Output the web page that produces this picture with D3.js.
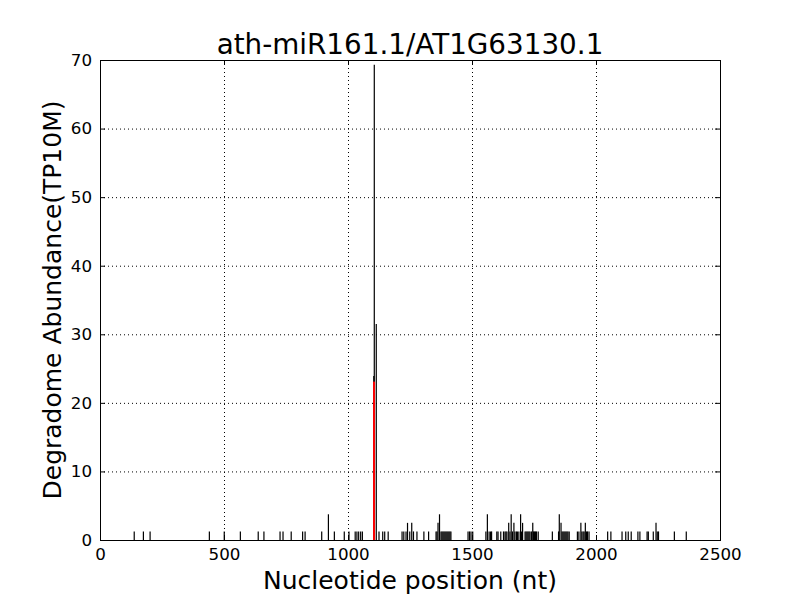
<!DOCTYPE html>
<html>
<head>
<meta charset="utf-8">
<script src="https://cdn.jsdelivr.net/npm/d3@7"></script>
<style>
  html, body { margin: 0; padding: 0; background: #ffffff; }
  svg { display: block; }
  text { font-family: "DejaVu Sans", sans-serif; fill: #000; }
</style>
</head>
<body>
<svg id="chart" width="800" height="600"></svg>
<script>
// ---- data ----
const titleText = "ath-miR161.1/AT1G63130.1";
const xLabelText = "Nucleotide position (nt)";
const yLabelText = "Degradome Abundance(TP10M)";
const xTicks = [0, 500, 1000, 1500, 2000, 2500];
const yTicks = [0, 10, 20, 30, 40, 50, 60, 70];

const positions = [
  138, 175, 202, 441, 501, 566, 638, 661, 726, 738, 771, 817, 827,
  894, 921, 945, 985, 1004, 1029, 1036, 1043, 1051, 1058,
  1104, 1106, 1114,
  1125, 1140, 1148, 1162,
  1218, 1225, 1234, 1240, 1249, 1257, 1264, 1278, 1306, 1325,
  1355, 1359, 1363, 1369, 1375, 1379, 1383, 1387, 1391, 1395, 1399, 1403, 1407, 1411, 1415,
  1484, 1490, 1496, 1503,
  1556, 1562, 1569, 1575, 1579,
  1600, 1605, 1616, 1627, 1633, 1637, 1641, 1648, 1653, 1658, 1663, 1669, 1673, 1679, 1683,
  1689, 1696, 1700, 1704, 1714, 1718, 1722, 1726, 1730, 1734, 1740, 1745, 1748, 1752, 1756, 1760, 1767,
  1824, 1849, 1852, 1859, 1863, 1867, 1871, 1875, 1879, 1883, 1887, 1892,
  1925, 1931, 1939, 1943, 1948, 1952, 1957, 1962, 1966, 1972,
  2047, 2060, 2105, 2120, 2130, 2142, 2169, 2177, 2206, 2211, 2231, 2242, 2247, 2252, 2316, 2364
];
const abundances = [
  1.25, 1.25, 1.25, 1.25, 1.25, 1.25, 1.25, 1.25, 1.25, 1.25, 1.25, 1.25, 1.25,
  1.25, 3.75, 1.25, 1.25, 1.25, 1.25, 1.25, 1.25, 1.25, 1.25,
  23.9, 69.3, 31.5,
  1.25, 1.25, 1.25, 1.25,
  1.25, 1.25, 1.25, 2.5, 1.25, 2.5, 1.25, 1.25, 1.25, 1.25,
  1.25, 1.25, 2.5, 3.75, 1.25, 1.25, 1.25, 1.25, 1.25, 1.25, 1.25, 1.25, 1.25, 1.25, 1.25,
  1.25, 1.25, 1.25, 1.25,
  1.25, 3.75, 1.25, 1.25, 1.25,
  1.25, 1.25, 1.25, 1.25, 1.25, 1.25, 1.25, 2.5, 1.25, 3.75, 1.25, 2.5, 1.25, 1.25, 1.25,
  1.25, 3.75, 1.25, 2.5, 1.25, 1.25, 1.25, 1.25, 1.25, 1.25, 1.25, 2.5, 1.25, 1.25, 1.25, 1.25, 1.25,
  1.25, 1.25, 3.75, 2.5, 1.25, 1.25, 1.25, 1.25, 1.25, 1.25, 1.25, 1.25,
  1.25, 1.25, 2.5, 1.25, 1.25, 1.25, 2.5, 1.25, 1.25, 1.25,
  1.25, 1.25, 1.25, 1.25, 1.25, 1.25, 1.25, 1.25, 1.25, 1.25, 1.25, 2.5, 1.25, 1.25, 1.25, 1.25
];
const cleavagePositions = [1105];
const cleavageAbundances = [23.1];

// ---- layout ----
const svg = d3.select("#chart");
const mLeft = 100, mRight = 720, mTop = 60, mBottom = 540;

const x = d3.scaleLinear().domain([0, 2500]).range([mLeft, mRight]);
const y = d3.scaleLinear().domain([0, 70]).range([mBottom, mTop]);

// grid
const grid = svg.append("g");
grid.selectAll("line.gx").data(xTicks).join("line")
  .attr("x1", d => x(d) + 0.5).attr("x2", d => x(d) + 0.5)
  .attr("y1", mTop).attr("y2", mBottom)
  .attr("stroke", "#000").attr("stroke-width", 1).attr("stroke-dasharray", "1,3");
grid.selectAll("line.gy").data(yTicks).join("line")
  .attr("y1", d => y(d) + 0.5).attr("y2", d => y(d) + 0.5)
  .attr("x1", mLeft).attr("x2", mRight)
  .attr("stroke", "#000").attr("stroke-width", 1).attr("stroke-dasharray", "1,3");

// bars (vlines)
const bars = positions.map((p, i) => ({ p, v: abundances[i] }));
svg.append("g").selectAll("line").data(bars).join("line")
  .attr("x1", d => x(d.p)).attr("x2", d => x(d.p))
  .attr("y1", y(0)).attr("y2", d => y(d.v))
  .attr("stroke", "#000").attr("stroke-width", 1.2);

const cleav = cleavagePositions.map((p, i) => ({ p, v: cleavageAbundances[i] }));
svg.append("g").selectAll("line").data(cleav).join("line")
  .attr("x1", d => x(d.p)).attr("x2", d => x(d.p))
  .attr("y1", y(0)).attr("y2", d => y(d.v))
  .attr("stroke", "#ff0000").attr("stroke-width", 2);

// frame
svg.append("rect").attr("x", mLeft + 0.5).attr("y", mTop + 0.5)
  .attr("width", mRight - mLeft).attr("height", mBottom - mTop)
  .attr("fill", "none").attr("stroke", "#000").attr("stroke-width", 1);

// axes with inward ticks on all sides
const tickLen = 5;
const xAxisB = d3.axisBottom(x).tickValues(xTicks).tickSizeInner(-tickLen).tickSizeOuter(0).tickPadding(tickLen + 3).tickFormat(d3.format("d"));
const xAxisT = d3.axisTop(x).tickValues(xTicks).tickSizeInner(-tickLen).tickSizeOuter(0).tickFormat("");
const yAxisL = d3.axisLeft(y).tickValues(yTicks).tickSizeInner(-tickLen).tickSizeOuter(0).tickPadding(tickLen + 3).tickFormat(d3.format("d"));
const yAxisR = d3.axisRight(y).tickValues(yTicks).tickSizeInner(-tickLen).tickSizeOuter(0).tickFormat("");

function styleAxis(g) {
  g.select(".domain").remove();
  g.selectAll("line").attr("stroke", "#000");
  g.selectAll("text").attr("font-size", "16.7px").attr("font-family", "DejaVu Sans").attr("fill", "#000");
}
svg.append("g").attr("transform", `translate(0,${mBottom})`).call(xAxisB).call(styleAxis);
svg.append("g").attr("transform", `translate(0,${mTop})`).call(xAxisT).call(styleAxis);
svg.append("g").attr("transform", `translate(${mLeft},0)`).call(yAxisL).call(styleAxis);
svg.append("g").attr("transform", `translate(${mRight},0)`).call(yAxisR).call(styleAxis);

// title and labels
svg.append("text").attr("x", (mLeft + mRight) / 2).attr("y", 54)
  .attr("text-anchor", "middle").attr("font-size", "27.8px").text(titleText);
svg.append("text").attr("x", (mLeft + mRight) / 2).attr("y", 589)
  .attr("text-anchor", "middle").attr("font-size", "25px").text(xLabelText);
svg.append("text").attr("transform", `translate(61,${(mTop + mBottom) / 2}) rotate(-90)`)
  .attr("text-anchor", "middle").attr("font-size", "25px").text(yLabelText);
</script>
</body>
</html>
